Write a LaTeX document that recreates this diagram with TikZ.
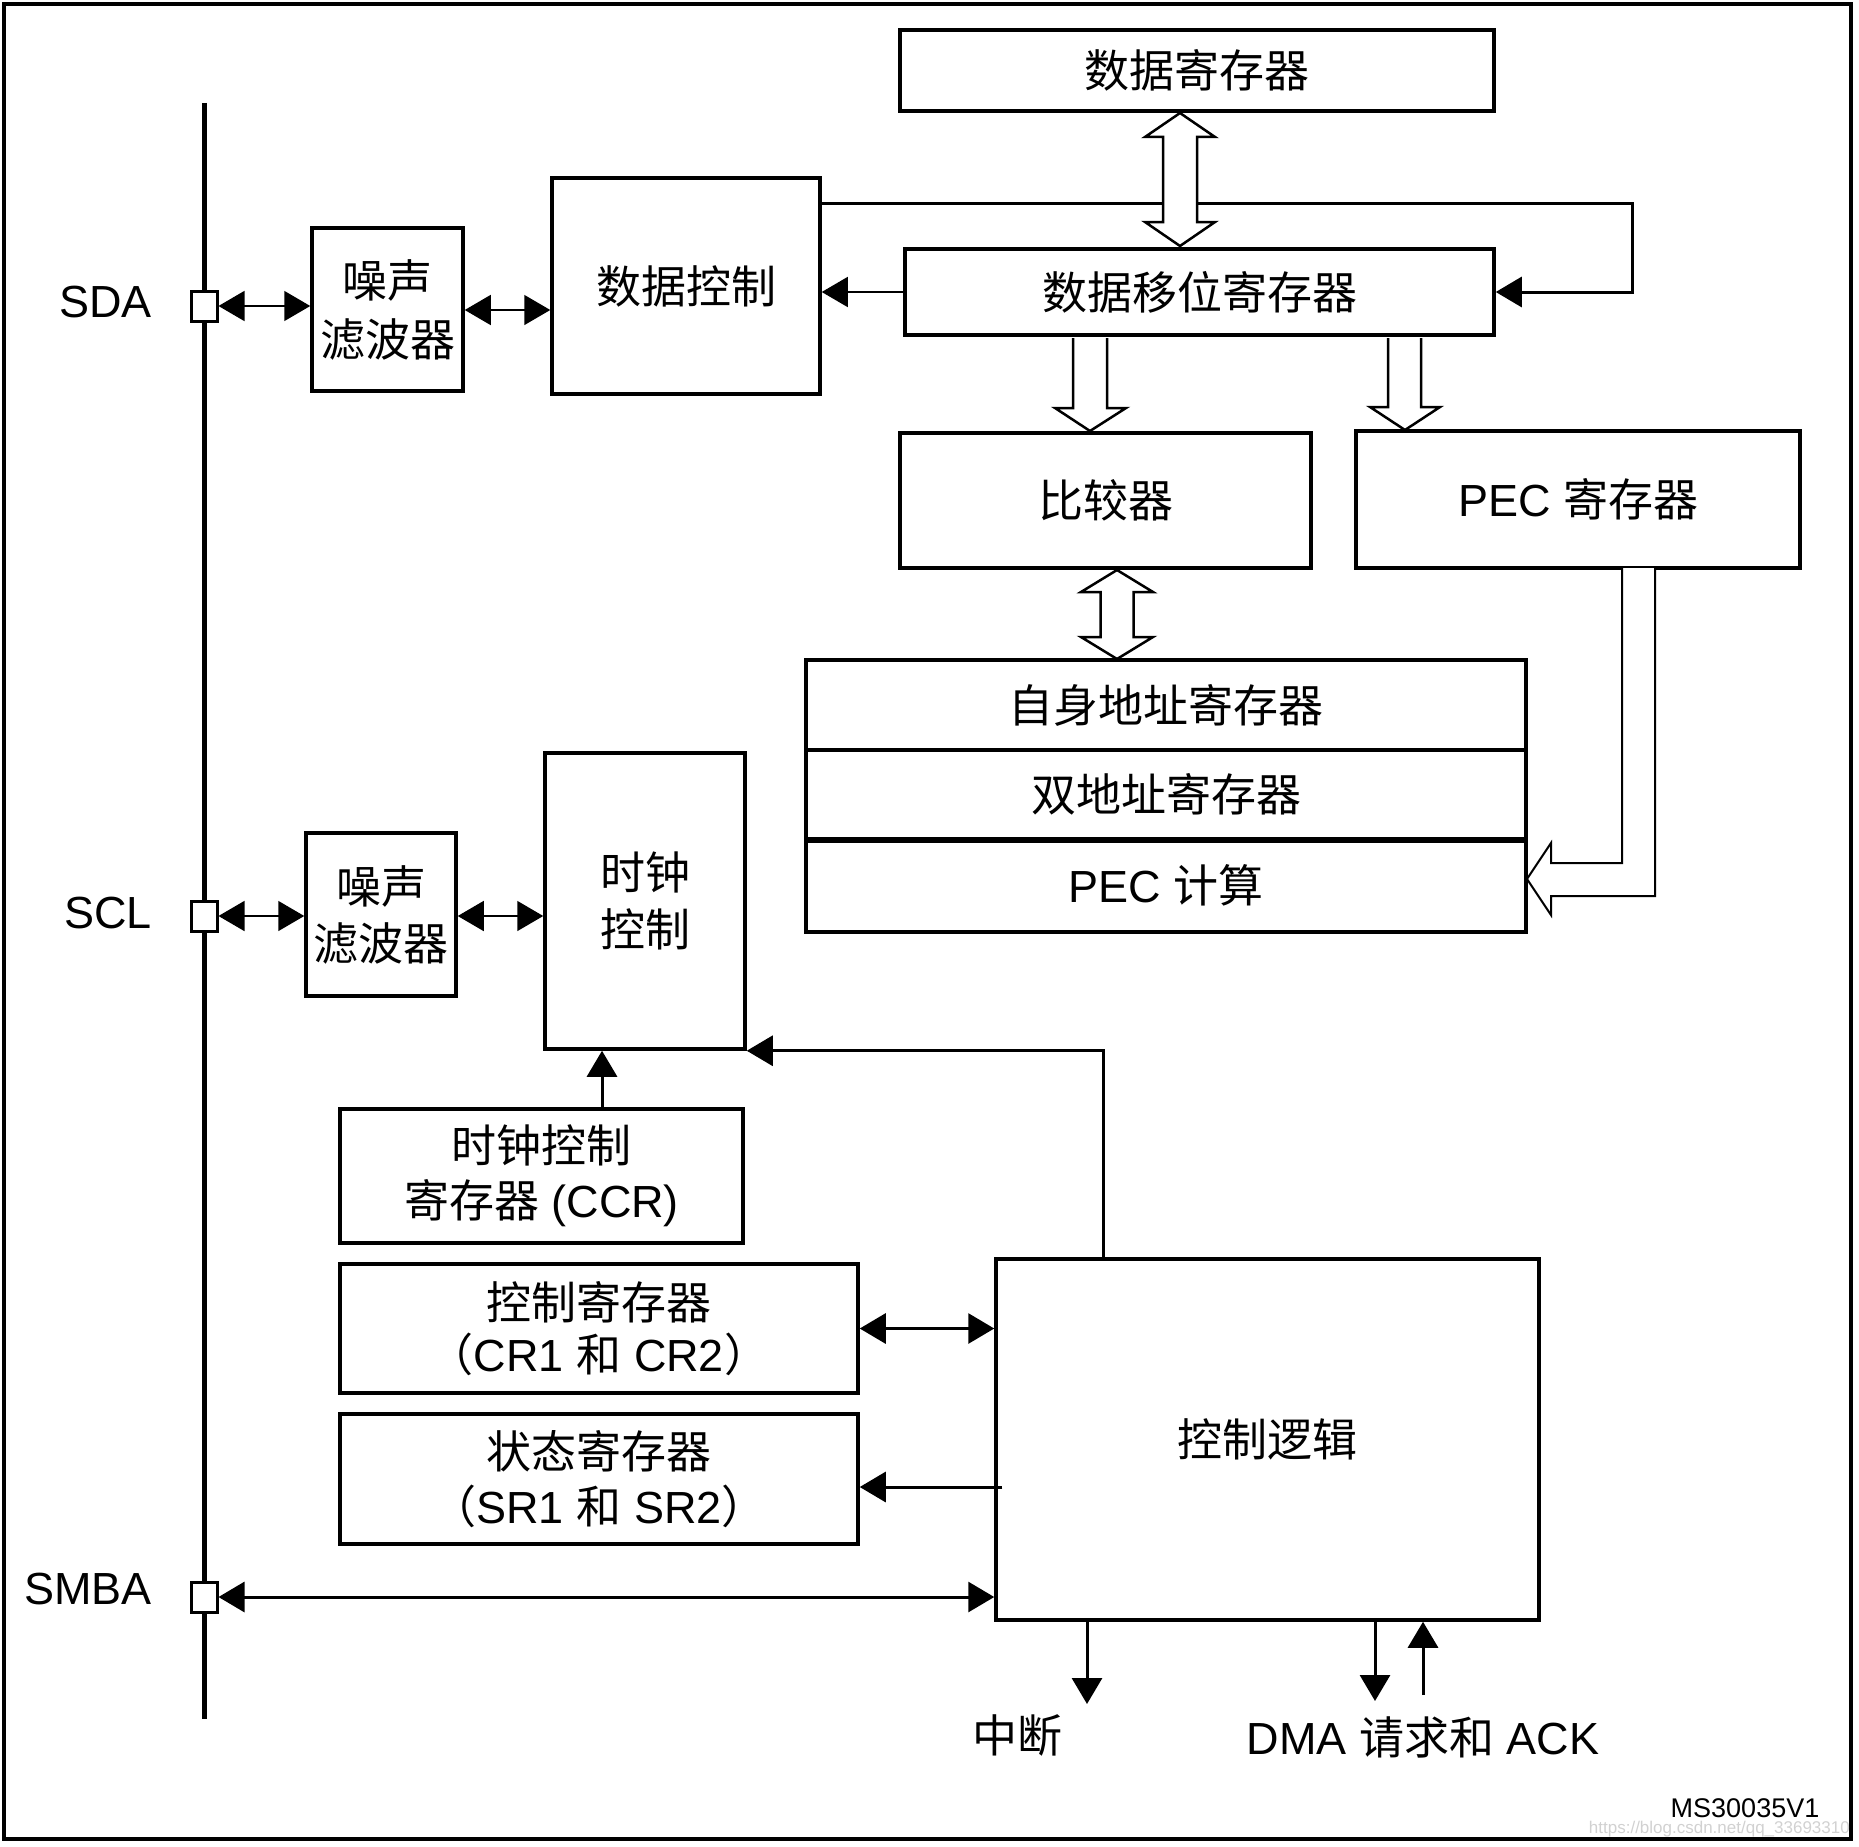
\documentclass[tikz,border=0pt]{standalone}
\usepackage{fontspec}
\setmainfont{Liberation Sans}
\newfontfamily\cjk{Noto Sans CJK SC}
\usetikzlibrary{arrows.meta}
\newcommand\bigtext{\fontsize{45}{57}\selectfont}
\begin{document}
\begin{tikzpicture}[x=1pt,y=-1pt,
  box/.style={draw, line width=3.5pt, inner sep=0pt, font=\bigtext, align=center},
  pin/.style={draw, fill=white, line width=3pt, minimum width=26pt, minimum height=30pt, inner sep=0pt},
  tip/.style={-{Triangle[length=26pt,width=30pt]}},
  dtip/.style={{Triangle[length=26pt,width=30pt]}-{Triangle[length=26pt,width=30pt]}},
  conn/.style={line width=3pt},
  thinconn/.style={line width=1.5pt},
  hollow/.style={draw, fill=white, line width=2.5pt, line join=miter},
  lbl/.style={font=\bigtext, inner sep=0pt}]
\useasboundingbox (0,0) rectangle (1859,1846);
\draw[line width=4pt] (4,4) rectangle (1851,1839);

% bus and pins
\coordinate (bustop) at (204,103);
\coordinate (busbot) at (204,1719);
\draw[line width=5pt] (bustop) -- (busbot);
\node[pin] (sda) at (204,306) {};
\node[pin] (scl) at (204,916) {};
\node[pin] (smba) at (204,1597) {};
\node[lbl, anchor=east] (sdal) at (152,302) {SDA};
\node[lbl, anchor=east] (scll) at (152,913) {SCL};
\node[lbl, anchor=east] (smbal) at (152,1589) {SMBA};

% boxes
\node[box, minimum width=594pt, minimum height=81pt] (dreg) at (1197,70.5) {\cjk 数据寄存器};
\node[box, minimum width=268pt, minimum height=216pt] (dctrl) at (686,286) {\cjk 数据控制};
\node[box, minimum width=589pt, minimum height=86pt] (shift) at (1199.5,292) {\cjk 数据移位寄存器};
\node[box, minimum width=411pt, minimum height=135pt] (cmp) at (1105.5,500.5) {\cjk 比较器};
\node[box, minimum width=444pt, minimum height=137pt] (pecreg) at (1578,499.5) {PEC {\cjk 寄存器}};
\node[box, minimum width=720pt, minimum height=90pt] (addr1) at (1166,705) {\cjk 自身地址寄存器};
\node[box, minimum width=720pt, minimum height=89pt] (addr2) at (1166,794.5) {\cjk 双地址寄存器};
\node[box, minimum width=720pt, minimum height=93pt] (peccalc) at (1166,885.5) {PEC {\cjk 计算}};
\draw[line width=5pt] (addr2.south west) -- (addr2.south east);
\node[box, minimum width=151pt, minimum height=163pt] (filt1) at (387.5,309.5) {\cjk 噪声\\[2pt]\cjk 滤波器};
\node[box, minimum width=150pt, minimum height=163pt] (filt2) at (381,914.5) {\cjk 噪声\\[0pt]\cjk 滤波器};
\node[box, minimum width=200pt, minimum height=296pt] (clk) at (645,901) {\cjk 时钟\\\cjk 控制};
\node[box, minimum width=403pt, minimum height=134pt] (ccr) at (541.5,1176) {\cjk 时钟控制\\[-2pt]{\cjk 寄存器} (CCR)};
\node[box, minimum width=518pt, minimum height=129pt] (cr) at (599,1328.5) {\cjk 控制寄存器\\[-5pt]{\cjk （}CR1 {\cjk 和} CR2{\cjk ）}};
\node[box, minimum width=518pt, minimum height=130pt] (sr) at (599,1479) {\cjk 状态寄存器\\[-2pt]{\cjk （}SR1 {\cjk 和} SR2{\cjk ）}};
\node[box, minimum width=543pt, minimum height=361pt] (logic) at (1267.5,1439.5) {\cjk 控制逻辑};

% SDA / SCL connectors
\draw[thinconn, dtip] (sda.east) -- (sda.east -| filt1.west);
\coordinate (sdb) at (0,310);
\draw[thinconn, dtip] (filt1.east |- sdb) -- (dctrl.west |- sdb);
\draw[thinconn, dtip] (scl.east) -- (scl.east -| filt2.west);
\draw[thinconn, dtip] (filt2.east |- scl) -- (clk.west |- scl);

% shift register -> data control
\draw[thinconn, tip] (shift.west) -- (shift.west -| dctrl.east);

% return path from data control to shift register
\coordinate (ry) at (0,203);
\coordinate (rc) at (1632,0);
\draw[conn, tip] (dctrl.east |- ry) -| (rc |- shift.east) -- (shift.east);

% hollow arrows
\draw[hollow] (1180,113) -- (1215,137) -- (1197,137) -- (1197,222) -- (1215,222) -- (1180,246)
  -- (1145,222) -- (1163,222) -- (1163,137) -- (1145,137) -- cycle;
\draw[hollow] (1073,338) -- (1073,408) -- (1055,408) -- (1090,431) -- (1126,408) -- (1107,408) -- (1107,338);
\draw[hollow] (1388,338) -- (1388,407) -- (1370,407) -- (1405,430) -- (1440,407) -- (1421,407) -- (1421,338);
\draw[hollow] (1117,570) -- (1153,592) -- (1133.5,592) -- (1133.5,637) -- (1153,637) -- (1117,659)
  -- (1081,637) -- (1100.5,637) -- (1100.5,592) -- (1081,592) -- cycle;
\draw[hollow, line width=2pt] (1622,568) -- (1622,863) -- (1551,863) -- (1551,843) -- (1527,879)
  -- (1551,915) -- (1551,896) -- (1655,896) -- (1655,568);

% clock control connectors
\coordinate (cx) at (602,0);
\draw[conn, tip] (cx |- ccr.north) -- (cx |- clk.south);
\coordinate (lx) at (1103,0);
\draw[conn, tip] (lx |- logic.north) |- (clk.south east);

% control logic connectors
\draw[conn, dtip] (cr.east) -- (cr.east -| logic.west);
\coordinate (sy) at (0,1487);
\draw[conn, tip] ([xshift=8pt]logic.west |- sy) -- (sr.east |- sy);
\draw[conn, dtip] (smba.east) -- (smba.east -| logic.west);

\coordinate (intend) at (1087,1704);
\draw[conn, tip] (intend |- logic.south) -- (intend);
\coordinate (dmadown) at (1375,1701);
\draw[conn, tip] (dmadown |- logic.south) -- (dmadown);
\coordinate (dmaup) at (1423,1695);
\draw[conn, tip] (dmaup) -- (dmaup |- logic.south);

\node[lbl] (intl) at (1017,1735) {\cjk 中断};
\node[lbl] (dmal) at (1423,1737) {DMA {\cjk 请求和} ACK};

\node[inner sep=0pt, font=\fontsize{27}{30}\selectfont] (ver) at (1745,1808) {MS30035V1};
\node[inner sep=0pt, anchor=east, text=black!18, font=\fontsize{17}{20}\selectfont] (wm) at (1850,1829) {https://blog.csdn.net/qq\_33693310};
\end{tikzpicture}
\end{document}
